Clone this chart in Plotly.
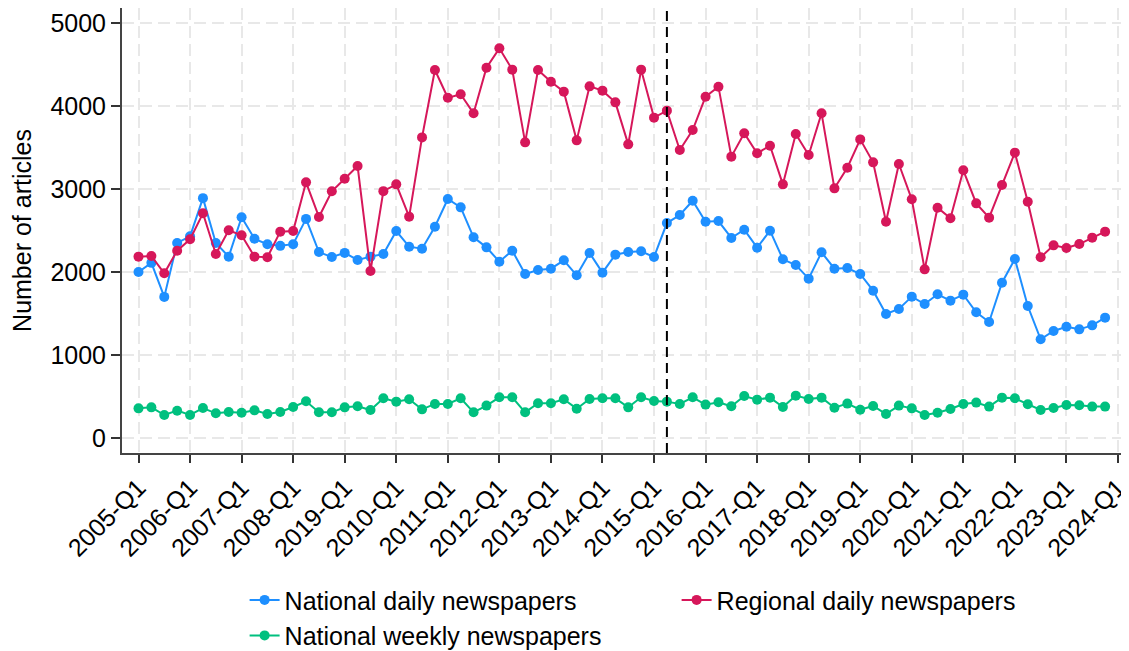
import plotly.graph_objects as go

quarters = [f"{y}-Q{q}" for y in range(2005, 2024) for q in range(1, 5)]

national_daily = [2000, 2110, 1700, 2350, 2430, 2890, 2350, 2185, 2660, 2400,
                  2335, 2315, 2335, 2640, 2240, 2180, 2230, 2145, 2185, 2217,
                  2494, 2305, 2281, 2546, 2880, 2779, 2418, 2297, 2124, 2257,
                  1976, 2024, 2040, 2141, 1960, 2229, 1992, 2209, 2241, 2249,
                  2180, 2590, 2687, 2859, 2606, 2614, 2410, 2510, 2293, 2498,
                  2153, 2084, 1920, 2237, 2040, 2048, 1976, 1775, 1494, 1554,
                  1703, 1614, 1731, 1655, 1727, 1514, 1398, 1871, 2157, 1590,
                  1189, 1289, 1341, 1309, 1357, 1450]

regional_daily = [2185, 2193, 1984, 2257, 2394, 2707, 2217, 2502, 2442, 2185,
                  2177, 2486, 2494, 3080, 2663, 2972, 3124, 3277, 2012, 2974,
                  3056, 2667, 3622, 4434, 4100, 4141, 3912, 4462, 4695, 4438,
                  3562, 4434, 4293, 4173, 3586, 4237, 4185, 4044, 3538, 4438,
                  3860, 3944, 3470, 3711, 4112, 4233, 3390, 3671, 3430, 3522,
                  3056, 3663, 3410, 3912, 3008, 3257, 3598, 3321, 2606, 3301,
                  2876, 2032, 2775, 2647, 3225, 2827, 2655, 3048, 3438, 2847,
                  2177, 2321, 2289, 2337, 2414, 2486]

national_weekly = [357, 369, 277, 329, 277, 361, 297, 313, 305, 333,
                   289, 313, 373, 442, 309, 309, 369, 382, 337, 478,
                   438, 466, 345, 410, 410, 478, 309, 390, 490, 490,
                   309, 418, 418, 466, 353, 470, 478, 478, 369, 490,
                   446, 438, 410, 490, 402, 430, 382, 506, 462, 486,
                   373, 510, 470, 486, 365, 414, 341, 386, 289, 390,
                   357, 277, 305, 349, 410, 426, 378, 486, 478, 406,
                   337, 361, 398, 394, 378, 378]

tick_labels = ["2005-Q1", "2006-Q1", "2007-Q1", "2008-Q1", "2019-Q1", "2010-Q1",
               "2011-Q1", "2012-Q1", "2013-Q1", "2014-Q1", "2015-Q1", "2016-Q1",
               "2017-Q1", "2018-Q1", "2019-Q1", "2020-Q1", "2021-Q1", "2022-Q1",
               "2023-Q1", "2024-Q1"]
tick_positions = list(range(0, 77, 4))
break_quarter = "2015-Q2"

x = list(range(len(quarters)))
series = [
    ("National daily newspapers", national_daily, "#1E8FFF"),
    ("Regional daily newspapers", regional_daily, "#D6175A"),
    ("National weekly newspapers", national_weekly, "#00C07F"),
]

fig = go.Figure()
for name, vals, col in series:
    fig.add_trace(go.Scatter(
        x=x, y=vals, name=name, mode="lines+markers",
        line=dict(color=col, width=2),
        marker=dict(color=col, size=10),
        customdata=quarters,
        hovertemplate="%{customdata}: %{y}<extra>" + name + "</extra>",
    ))

bx = quarters.index(break_quarter)
fig.add_shape(type="line", x0=bx, x1=bx, xref="x", y0=0, y1=1, yref="paper",
              line=dict(color="black", width=2, dash="10px,6px"))

# The page body has an 8px default margin, so the figure is sized to fit inside it.
font_family = "Liberation Sans, Arial, sans-serif"
fig.update_layout(
    width=1121, height=643,
    plot_bgcolor="white", paper_bgcolor="white",
    margin=dict(l=114, r=2, t=0, b=198, autoexpand=False),
    font=dict(family=font_family, size=25, color="black"),
    xaxis=dict(
        range=[-1.28, 76.7], automargin=False, ticklabeloverflow="allow",
        tickmode="array", tickvals=tick_positions, ticktext=tick_labels,
        tickangle=-45, ticks="outside", ticklen=8, tickwidth=1.5, tickcolor="#333",
        showline=True, linecolor="#444", linewidth=2,
        showgrid=True, gridcolor="#e8e8e8", griddash="12px,6px", gridwidth=1.5,
        zeroline=False, tickfont=dict(size=25),
    ),
    yaxis=dict(
        range=[-181, 5181], automargin=False,
        tickvals=[0, 1000, 2000, 3000, 4000, 5000],
        ticks="outside", ticklen=9, tickwidth=1.5, tickcolor="#333",
        showline=True, linecolor="#444", linewidth=2,
        showgrid=True, gridcolor="#e8e8e8", griddash="12px,6px", gridwidth=1.5,
        zeroline=False, tickfont=dict(size=25),
        title=dict(text="Number of articles", font=dict(size=25)),
    ),
    legend=dict(
        orientation="h", x=0.122, xanchor="left", y=-0.279, yanchor="top",
        entrywidth=387, font=dict(size=25), traceorder="normal",
    ),
)

fig.write_html("out.html")
